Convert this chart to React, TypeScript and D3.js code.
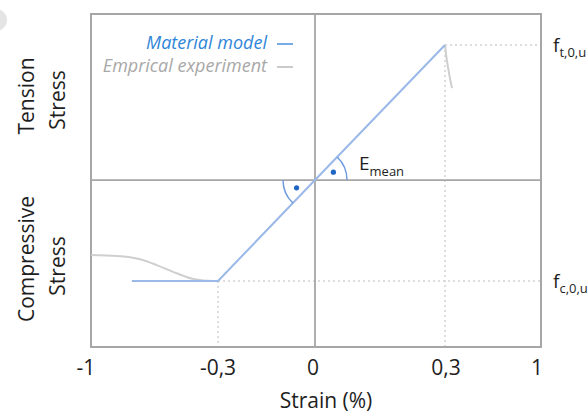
import { useEffect, useRef } from 'react'
import * as d3 from 'd3'

// strain ticks (schematic, not evenly spaced)
const strainTicks = [-1, -0.3, 0, 0.3, 1]
const tickLabels = ['-1', '-0,3', '0', '0,3', '1']

// stress normalised to f_t,0,u = 1
const ft = 1
const fc = -0.748
const epsC = -0.3
const epsT = 0.3
const epsEnd = -0.775

// material model (bilinear)
const modelStrain = [epsEnd, epsC, 0, epsT]
const modelStress = [fc, fc, 0, ft]

const expCompStrain = [-1, -0.858, -0.73, -0.638, -0.528, -0.436, -0.326, -0.3]
const expCompStress = [-0.556, -0.563, -0.587, -0.63, -0.691, -0.733, -0.748, -0.748]
const expTensStrain = [0.3, 0.312, 0.335, 0.351]
const expTensStress = [1, 0.9, 0.76, 0.681]

const font = '"Open Sans", sans-serif'

export default function App() {
  const svgRef = useRef<SVGSVGElement>(null)

  useEffect(() => {
    if (!svgRef.current) return
    const svg = d3.select(svgRef.current)
    svg.selectAll('*').remove()

    const x = d3.scaleLinear().domain(strainTicks).range([91, 218, 315, 445, 541])
    const y = d3.scaleLinear().domain([-1.237, 1.23]).range([347, 14])

    const blue = '#9ab8e8'
    const grey = '#cfcfcf'
    const frame = '#a6a6a6'

    // blob in the corner
    svg.append('circle').attr('cx', -4).attr('cy', 20).attr('r', 11).attr('fill', '#e4e4e4')

    // dotted guide lines
    const dot = (x1: number, y1: number, x2: number, y2: number) =>
      svg.append('line')
        .attr('x1', x1).attr('y1', y1).attr('x2', x2).attr('y2', y2)
        .attr('stroke', '#d2d2d2').attr('stroke-width', 1.5)
        .attr('stroke-dasharray', '2,3')
    dot(x(epsT), y(ft), x(1), y(ft))
    dot(x(epsT), y(ft), x(epsT), y.range()[0])
    dot(x(epsC), y(fc), x(1), y(fc))
    dot(x(epsC), y(fc), x(epsC), y.range()[0])

    // zero lines
    svg.append('line').attr('x1', x(-1)).attr('x2', x(1)).attr('y1', y(0)).attr('y2', y(0))
      .attr('stroke', frame).attr('stroke-width', 1.8)
    svg.append('line').attr('x1', x(0)).attr('x2', x(0)).attr('y1', y.range()[1]).attr('y2', y.range()[0])
      .attr('stroke', frame).attr('stroke-width', 1.8)

    // frame
    svg.append('rect')
      .attr('x', x(-1)).attr('y', y.range()[1])
      .attr('width', x(1) - x(-1)).attr('height', y.range()[0] - y.range()[1])
      .attr('fill', 'none').attr('stroke', frame).attr('stroke-width', 2)

    // empirical curves
    const line = d3.line<[number, number]>().x(d => x(d[0])).y(d => y(d[1]))
    svg.append('path')
      .attr('d', line.curve(d3.curveMonotoneX)(d3.zip(expCompStrain, expCompStress) as [number, number][]))
      .attr('fill', 'none').attr('stroke', grey).attr('stroke-width', 2)
    svg.append('path')
      .attr('d', line.curve(d3.curveCatmullRom)(d3.zip(expTensStrain, expTensStress) as [number, number][]))
      .attr('fill', 'none').attr('stroke', grey).attr('stroke-width', 2)

    // material model
    svg.append('path')
      .attr('d', line.curve(d3.curveLinear)(d3.zip(modelStrain, modelStress) as [number, number][]))
      .attr('fill', 'none').attr('stroke', blue).attr('stroke-width', 2)

    // angle marks
    const ox = x(0), oy = y(0)
    const ang = Math.atan2(y(0) - y(ft), x(epsT) - x(0))
    const r = 32
    const arcPath = (a0: number, a1: number) => {
      const p = d3.path()
      p.arc(ox, oy, r, a0, a1, true)
      return p.toString()
    }
    svg.append('path').attr('d', arcPath(0, -ang)).attr('fill', 'none')
      .attr('stroke', '#6e9bdc').attr('stroke-width', 1.5)
    svg.append('path').attr('d', arcPath(Math.PI, Math.PI - ang)).attr('fill', 'none')
      .attr('stroke', '#6e9bdc').attr('stroke-width', 1.5)
    svg.append('circle').attr('cx', ox + 20 * Math.cos(ang / 2)).attr('cy', oy - 20 * Math.sin(ang / 2))
      .attr('r', 2.6).attr('fill', '#1f66c4')
    svg.append('circle').attr('cx', ox - 20 * Math.cos(ang / 2)).attr('cy', oy + 20 * Math.sin(ang / 2))
      .attr('r', 2.6).attr('fill', '#1f66c4')

    const txt = '#1e1e1e'

    // E_mean label
    const em = svg.append('text').attr('x', 359).attr('y', 170)
      .style('font-family', font).style('font-size', '19px').attr('fill', txt)
    em.append('tspan').text('E')
    em.append('tspan').attr('dy', 6).style('font-size', '13px').text('mean')

    // strength labels
    const strength = (v: number, sub: string) => {
      const t = svg.append('text').attr('x', 553).attr('y', y(v) + 7)
        .style('font-family', font).style('font-size', '19px').attr('fill', txt)
      t.append('tspan').text('f')
      t.append('tspan').attr('dy', 5).style('font-size', '13px').text(sub)
    }
    strength(ft, 't,0,u')
    strength(fc, 'c,0,u')

    // tick labels
    svg.selectAll('.tick-label')
      .data(strainTicks)
      .enter().append('text')
      .attr('class', 'tick-label')
      .attr('x', (d, i) => x(d) + [-5, 0, -2, 1, -4][i])
      .attr('y', 375)
      .attr('text-anchor', 'middle')
      .style('font-family', font).style('font-size', '21px')
      .attr('fill', txt)
      .text((d, i) => tickLabels[i])

    svg.append('text').attr('x', 326).attr('y', 408).attr('text-anchor', 'middle')
      .style('font-family', font).style('font-size', '21px').attr('fill', txt)
      .text('Strain (%)')

    // y labels
    const ylab = (cx: number, cy: number, s: string) =>
      svg.append('text')
        .attr('transform', `translate(${cx},${cy}) rotate(-90)`)
        .attr('text-anchor', 'middle')
        .style('font-family', font).style('font-size', '21px').attr('fill', txt)
        .text(s)
    ylab(34, 96, 'Tension')
    ylab(65, 100, 'Stress')
    ylab(34, 259, 'Compressive')
    ylab(65, 266, 'Stress')

    // legend
    const legend = [
      { label: 'Material model', color: '#2f86d8', dash: '#4a90dc' },
      { label: 'Emprical experiment', color: '#a8a8a8', dash: '#b8b8b8' },
    ]
    legend.forEach((d, i) => {
      const ly = 49 + i * 23
      svg.append('text').attr('x', 267).attr('y', ly).attr('text-anchor', 'end')
        .style('font-family', font).style('font-size', '18px').style('font-style', 'italic')
        .attr('fill', d.color).text(d.label)
      svg.append('line').attr('x1', 277).attr('x2', 293).attr('y1', ly - 5).attr('y2', ly - 5)
        .attr('stroke', d.dash).attr('stroke-width', 1.5)
    })
  }, [])

  return (
    <svg ref={svgRef} width={588} height={417}
      style={{ position: 'absolute', left: 0, top: 0, background: '#fff' }} />
  )
}
